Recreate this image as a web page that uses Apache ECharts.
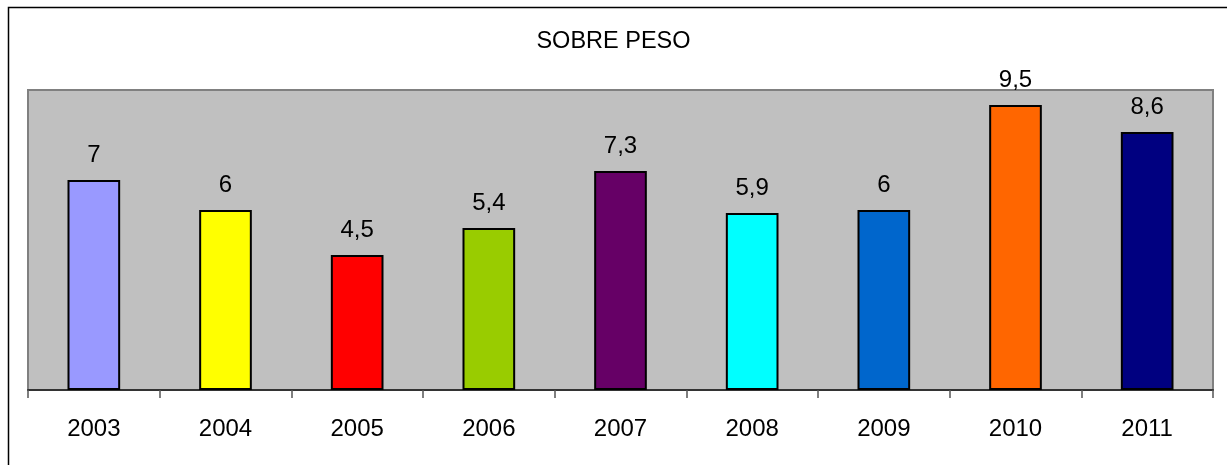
<!DOCTYPE html>
<html>
<head>
<meta charset="utf-8">
<script src="https://cdn.jsdelivr.net/npm/echarts@6/dist/echarts.min.js"></script>
<style>
html,body{margin:0;padding:0;background:#fff;}
#chart{width:1227px;height:465px;}
</style>
</head>
<body>
<div id="chart"></div>
<script>
var categories = ['2003','2004','2005','2006','2007','2008','2009','2010','2011'];
var values = [7, 6, 4.5, 5.4, 7.3, 5.9, 6, 9.5, 8.6];
var barColors = ['#9999FF','#FFFF00','#FF0000','#99CC00','#660066','#00FFFF','#0066CC','#FF6600','#000080'];

var chart = echarts.init(document.getElementById('chart'), null, {renderer:'canvas'});
var font = 'Liberation Sans, Arial, sans-serif';
chart.setOption({
  animation: false,
  backgroundColor: '#ffffff',
  title: {
    text: 'SOBRE PESO',
    left: 'center',
    top: 25,
    textStyle: {fontFamily: font, fontSize: 23.5, fontWeight: 'normal', color: '#000'}
  },
  graphic: [{
    type: 'rect',
    shape: {x: 8.5, y: 7.5, width: 1240, height: 500},
    style: {fill: null, stroke: '#000', lineWidth: 1.5},
    silent: true, z: 100
  }],
  grid: {
    left: 28, right: 14, top: 90, bottom: 75,
    show: true,
    backgroundColor: '#C0C0C0',
    borderColor: '#808080',
    borderWidth: 2
  },
  xAxis: {
    type: 'category',
    data: categories,
    boundaryGap: true,
    axisLine: {show: true, lineStyle: {color: '#333', width: 2}},
    axisTick: {show: true, length: 8, lineStyle: {color: '#555', width: 1.5}},
    axisLabel: {margin: 27, fontFamily: font, fontSize: 24, color: '#000'},
    splitLine: {show: false}
  },
  yAxis: {
    type: 'value',
    min: 0, max: 10, interval: 2,
    show: false,
    splitLine: {show: false}
  },
  series: [{
    type: 'bar',
    barWidth: '40%',
    data: values.map(function(v, i){
      return {value: v, itemStyle: {color: barColors[i]}};
    }),
    itemStyle: {borderColor: '#000', borderWidth: 2},
    label: {
      show: true,
      position: 'top',
      distance: 13,
      fontFamily: font,
      fontSize: 24,
      color: '#000',
      formatter: function(p){ return String(p.value).replace('.', ','); }
    }
  }]
});
</script>
</body>
</html>
